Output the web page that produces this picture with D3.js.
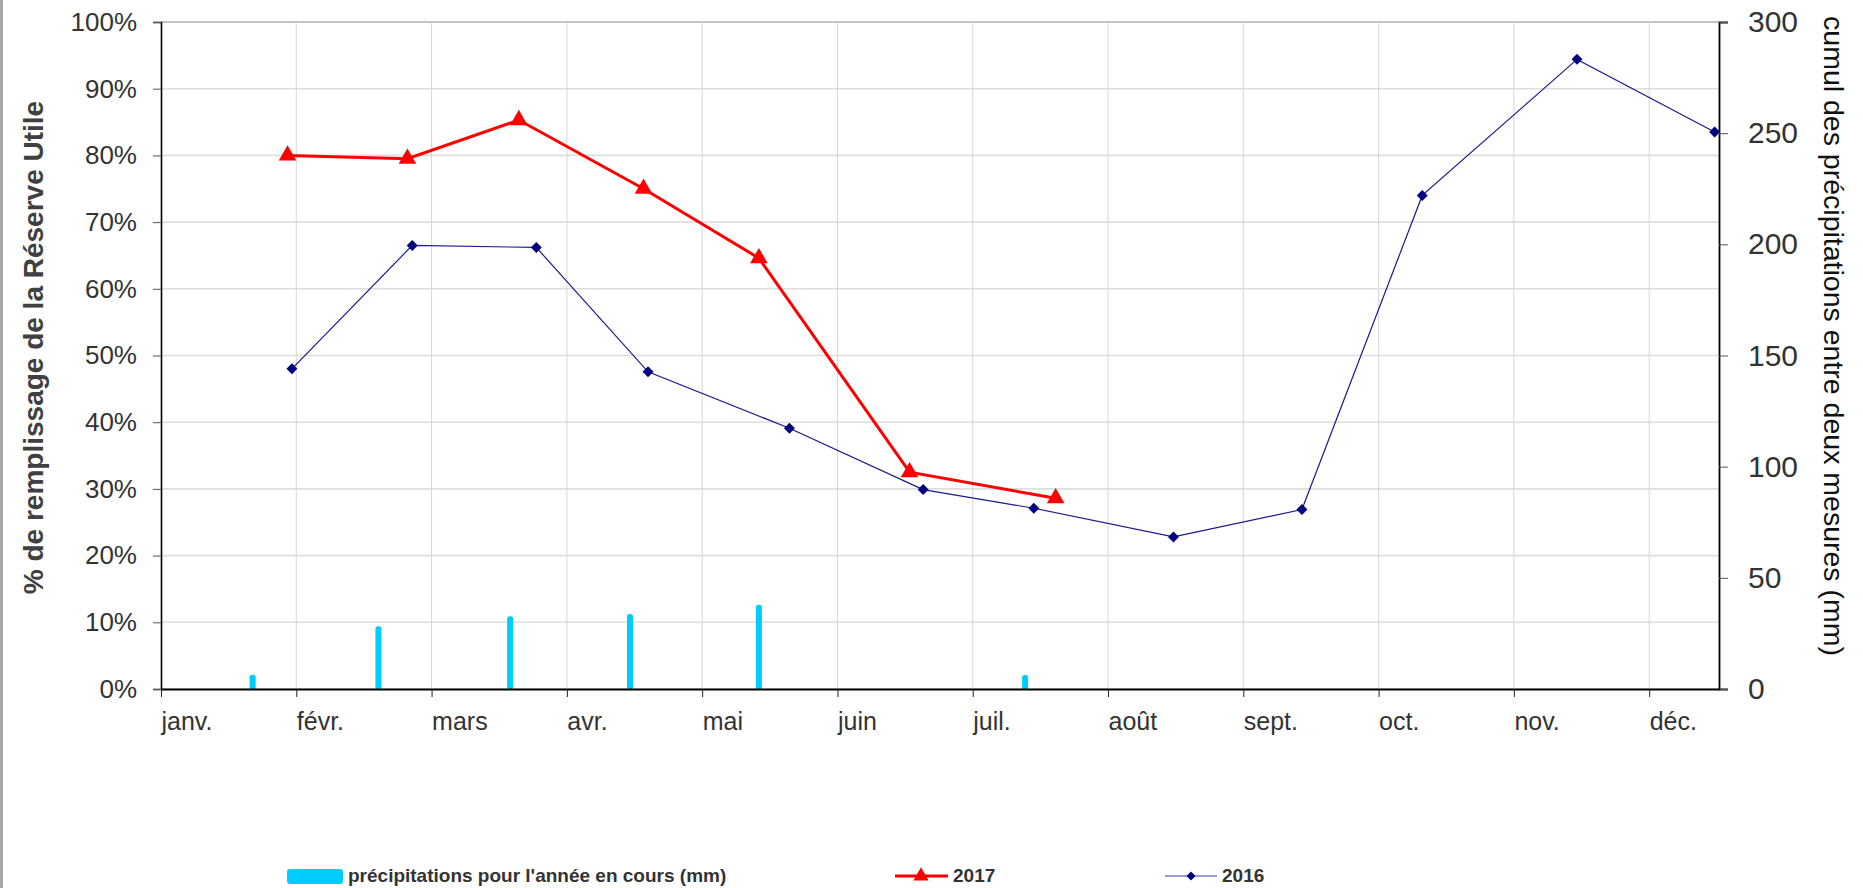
<!DOCTYPE html>
<html lang="fr">
<head>
<meta charset="utf-8">
<script src="https://cdn.jsdelivr.net/npm/d3@7"></script>
<style>
  html, body { margin: 0; padding: 0; background: #fff; }
  svg { display: block; font-family: "Liberation Sans", Arial, sans-serif; }
</style>
</head>
<body>
<svg id="chart" width="1863" height="888"></svg>
<script>
// Month labels of the date axis
const months = ["janv.", "févr.", "mars", "avr.", "mai", "juin", "juil.", "août", "sept.", "oct.", "nov.", "déc."];

// Rainfall between two readings (mm), right axis
const precipDates = ["22/01", "18/02", "19/03", "15/04", "14/05", "13/07"];
const precipMm = [6.4, 28.2, 32.7, 33.7, 37.9, 6.3];

// Soil water reserve filling, 2017
const dates2017 = ["30/01", "24/02", "21/03", "18/04", "14/05", "17/06", "20/07"];
const ru2017 = [0.800, 0.795, 0.853, 0.750, 0.646, 0.325, 0.286];

// Soil water reserve filling, 2016
const dates2016 = ["31/01", "25/02", "25/03", "19/04", "21/05", "20/06", "15/07", "16/08", "14/09", "11/10", "15/11", "16/12"];
const ru2016 = [0.480, 0.665, 0.662, 0.4755, 0.391, 0.299, 0.271, 0.228, 0.269, 0.740, 0.944, 0.835];

// Axis ticks
const leftTicks = [0, 0.1, 0.2, 0.3, 0.4, 0.5, 0.6, 0.7, 0.8, 0.9, 1.0];
const rightTicks = [0, 50, 100, 150, 200, 250, 300];
const axisEnd = "17/12";

// Each month gets the same width on the axis: position = month index + fraction of the month
const daysIn = [31, 28, 31, 30, 31, 30, 31, 31, 30, 31, 30, 31];
function monthPos(s) {
  const [d, m] = s.split("/").map(Number);
  return (m - 1) + (d - 1) / daysIn[m - 1];
}

const svg = d3.select("#chart");
const plot = { left: 161, right: 1719, top: 22, bottom: 689 };

const x = d3.scaleLinear().domain([0, monthPos(axisEnd)]).range([plot.left, plot.right]);
const yL = d3.scaleLinear().domain([0, 1]).range([plot.bottom, plot.top]);
const yR = d3.scaleLinear().domain([0, 300]).range([plot.bottom, plot.top]);

// Outer frame edge on the left
svg.append("line").attr("x1", 1.5).attr("x2", 1.5).attr("y1", 0).attr("y2", 888)
  .attr("stroke", "#a8a8a8").attr("stroke-width", 3);

// Grid
const grid = svg.append("g");
grid.selectAll("line.h").data(leftTicks).join("line")
  .attr("x1", plot.left).attr("x2", plot.right)
  .attr("y1", d => yL(d)).attr("y2", d => yL(d))
  .attr("stroke", "#dedede").attr("stroke-width", 1.6);
grid.selectAll("line.v").data(d3.range(1, 12)).join("line")
  .attr("x1", d => x(d)).attr("x2", d => x(d))
  .attr("y1", plot.top).attr("y2", plot.bottom)
  .attr("stroke", "#d6d6d6").attr("stroke-width", 1);
grid.append("line").attr("x1", plot.left).attr("x2", plot.right)
  .attr("y1", plot.top).attr("y2", plot.top)
  .attr("stroke", "#c4c4c4").attr("stroke-width", 2.2);

// Rainfall bars
const precip = precipDates.map((d, i) => ({ p: monthPos(d), v: precipMm[i] }));
svg.append("g").selectAll("rect").data(precip).join("rect")
  .attr("x", d => x(d.p) - 3).attr("width", 6)
  .attr("y", d => yR(d.v)).attr("height", d => yR(0) - yR(d.v) + 1)
  .attr("rx", 2.5)
  .attr("fill", "#00CCFF");

// Left axis
const axL = svg.append("g").attr("transform", `translate(${plot.left},0)`)
  .call(d3.axisLeft(yL).tickValues(leftTicks).tickFormat(d3.format(".0%")).tickSize(8).tickPadding(16));
axL.select(".domain").attr("stroke", "#000").attr("stroke-width", 1.6);
axL.selectAll(".tick line").attr("stroke", "#555");
axL.selectAll(".tick text").attr("font-size", 26).attr("fill", "#333").attr("font-family", "Liberation Sans, Arial, sans-serif");

// Right axis
const axR = svg.append("g").attr("transform", `translate(${plot.right},0)`)
  .call(d3.axisRight(yR).tickValues(rightTicks).tickSize(9).tickPadding(20));
axR.select(".domain").attr("stroke", "#000").attr("stroke-width", 1.8);
axR.selectAll(".tick line").attr("stroke", "#555");
axR.selectAll(".tick text").attr("font-size", 30).attr("fill", "#333").attr("font-family", "Liberation Sans, Arial, sans-serif");

// Bottom date axis, labels start at each month tick
const axB = svg.append("g").attr("transform", `translate(0,${plot.bottom})`)
  .call(d3.axisBottom(x).tickValues(d3.range(0, 12)).tickFormat(i => months[i]).tickSize(8).tickSizeOuter(0));
axB.select(".domain").attr("stroke", "#000").attr("stroke-width", 1.8);
axB.selectAll(".tick line").attr("stroke", "#222");
axB.selectAll(".tick text").attr("font-size", 25).attr("fill", "#333")
  .attr("text-anchor", "start").attr("y", 41).attr("dy", 0)
  .attr("font-family", "Liberation Sans, Arial, sans-serif");

// 2016 series
const s2016 = dates2016.map((d, i) => ({ p: monthPos(d), v: ru2016[i] }));
svg.append("path").datum(s2016)
  .attr("d", d3.line().x(d => x(d.p)).y(d => yL(d.v)))
  .attr("fill", "none").attr("stroke", "#1a1a8c").attr("stroke-width", 1.2);
svg.append("g").selectAll("path").data(s2016).join("path")
  .attr("d", d3.symbol(d3.symbolSquare, 60))
  .attr("transform", d => `translate(${x(d.p)},${yL(d.v)}) rotate(45)`)
  .attr("fill", "#000080");

// 2017 series
const s2017 = dates2017.map((d, i) => ({ p: monthPos(d), v: ru2017[i] }));
svg.append("path").datum(s2017)
  .attr("d", d3.line().x(d => x(d.p)).y(d => yL(d.v)))
  .attr("fill", "none").attr("stroke", "#FF0000").attr("stroke-width", 3);
svg.append("g").selectAll("path").data(s2017).join("path")
  .attr("d", d3.symbol(d3.symbolTriangle, 135))
  .attr("transform", d => `translate(${x(d.p)},${yL(d.v)})`)
  .attr("fill", "#FF0000");

// Axis titles
svg.append("text")
  .attr("transform", `translate(43,${(plot.top + plot.bottom) / 2 - 8}) rotate(-90)`)
  .attr("text-anchor", "middle").attr("font-weight", "bold").attr("font-size", 28)
  .attr("fill", "#404040")
  .text("% de remplissage de la Réserve Utile");
svg.append("text")
  .attr("transform", `translate(1824,336) rotate(90)`)
  .attr("text-anchor", "middle").attr("font-size", 28.5)
  .attr("fill", "#111")
  .text("cumul des précipitations entre deux mesures (mm)");

// Legend
const lg = svg.append("g").attr("font-weight", "bold").attr("font-size", 19).attr("fill", "#333");
lg.append("rect").attr("x", 287).attr("y", 869).attr("width", 56).attr("height", 15).attr("rx", 3).attr("fill", "#00CCFF");
lg.append("text").attr("x", 348).attr("y", 882).text("précipitations pour l'année en cours (mm)");

lg.append("line").attr("x1", 895).attr("x2", 948).attr("y1", 876).attr("y2", 876)
  .attr("stroke", "#FF0000").attr("stroke-width", 3);
lg.append("path").attr("d", d3.symbol(d3.symbolTriangle, 100)).attr("transform", "translate(921,876)").attr("fill", "#FF0000");
lg.append("text").attr("x", 953).attr("y", 882).text("2017");

lg.append("line").attr("x1", 1165).attr("x2", 1217).attr("y1", 876).attr("y2", 876)
  .attr("stroke", "#9c9cce").attr("stroke-width", 2);
lg.append("path").attr("d", d3.symbol(d3.symbolSquare, 40)).attr("transform", "translate(1191,876) rotate(45)").attr("fill", "#000080");
lg.append("text").attr("x", 1222).attr("y", 882).text("2016");
</script>
</body>
</html>
